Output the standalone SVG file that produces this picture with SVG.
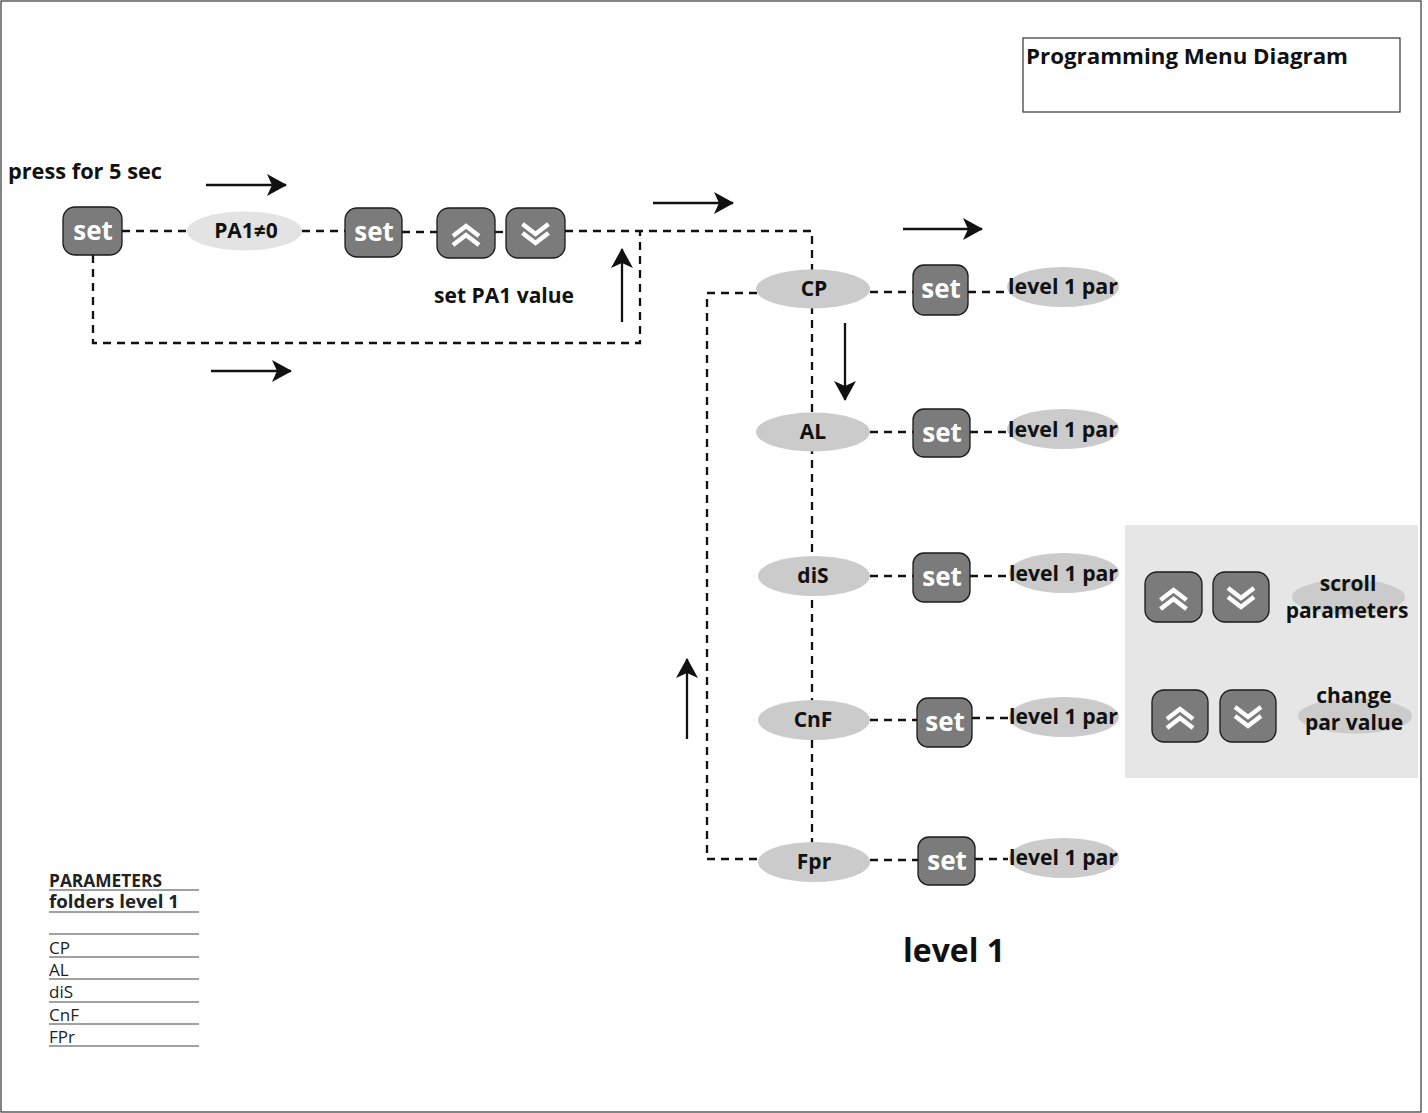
<svg xmlns="http://www.w3.org/2000/svg" width="1428" height="1113" viewBox="0 0 1428 1113">
<defs>
<style>
.btn{fill:#7b7b7b;stroke:#1a1a1a;stroke-width:1.3}
.bt{font-family:"Open Sans","Liberation Sans",sans-serif;font-weight:bold;font-size:26px;fill:#fff;text-anchor:middle}
.el{fill:#cbcbcb}
.lb{font-family:"Open Sans","Liberation Sans",sans-serif;font-weight:bold;font-size:21px;fill:#111;text-anchor:middle}
.tx{font-family:"Open Sans","Liberation Sans",sans-serif;font-weight:bold;font-size:21px;fill:#111}
.dash{fill:none;stroke:#111;stroke-width:2.3;stroke-dasharray:8 6}
.arr{fill:none;stroke:#111;stroke-width:2.3}
.chev{fill:none;stroke:#fff;stroke-width:4.5;stroke-linejoin:miter}
.tb{font-family:"Open Sans","Liberation Sans",sans-serif;font-size:17px;fill:#222}
.tl{stroke:#444;stroke-width:1.2}
</style>
<marker id="ah" viewBox="0 0 20 22" refX="19" refY="11" markerWidth="20" markerHeight="22" markerUnits="userSpaceOnUse" orient="auto">
<path d="M0,0 L20,11 L0,22 L5,11 z" fill="#111"/>
</marker>
<g id="upchev"><polyline class="chev" points="-13,3 0,-7 13,3"/><polyline class="chev" points="-13,12 0,2 13,12"/></g>
<g id="dnchev"><polyline class="chev" points="-13,-9 0,1 13,-9"/><polyline class="chev" points="-13,0 0,10 13,0"/></g>
</defs>
<rect x="1" y="1" width="1420" height="1111" fill="#fff" stroke="#333" stroke-width="1.2"/>

<g id="title">
<rect x="1023" y="38" width="377" height="74" fill="#fff" stroke="#333" stroke-width="1.2"/>
<text x="1026" y="64" class="tx" style="font-size:22px" textLength="322" lengthAdjust="spacingAndGlyphs">Programming Menu Diagram</text>
</g>

<g id="connectors">
<path class="dash" d="M122,231 H187"/>
<path class="dash" d="M302,231 H345"/>
<path class="dash" d="M402,232 H437"/>
<path class="dash" d="M495,232 H506"/>
<path class="dash" d="M565,231 H812 V843"/>
<path class="dash" d="M93,255 V343 H640 V231"/>
<path class="dash" d="M757,293 H707 V859 H758"/>
<path class="dash" d="M870,292 H913"/>
<path class="dash" d="M968,292 H1007"/>
<path class="dash" d="M870,432 H913"/>
<path class="dash" d="M970,432 H1007"/>
<path class="dash" d="M870,576 H913"/>
<path class="dash" d="M970,576 H1010"/>
<path class="dash" d="M870,720 H917"/>
<path class="dash" d="M972,718 H1008"/>
<path class="dash" d="M870,860 H918"/>
<path class="dash" d="M975,859 H1008"/>
<line class="arr" x1="206" y1="185" x2="286" y2="185" marker-end="url(#ah)"/>
<line class="arr" x1="211" y1="371" x2="291" y2="371" marker-end="url(#ah)"/>
<line class="arr" x1="653" y1="203" x2="733" y2="203" marker-end="url(#ah)"/>
<line class="arr" x1="903" y1="229" x2="982" y2="229" marker-end="url(#ah)"/>
<line class="arr" x1="622" y1="322" x2="622" y2="249" marker-end="url(#ah)"/>
<line class="arr" x1="845" y1="323" x2="845" y2="400" marker-end="url(#ah)"/>
<line class="arr" x1="687" y1="739" x2="687" y2="659" marker-end="url(#ah)"/>
</g>

<g id="press-label"><text x="8" y="179" class="tx" textLength="154" lengthAdjust="spacingAndGlyphs">press for 5 sec</text></g>
<g id="set1"><rect class="btn" x="63" y="207" width="59" height="48" rx="12"/><text x="93" y="240" class="bt">set</text></g>
<g id="pa1"><ellipse cx="244.5" cy="231" rx="57.5" ry="19.5" fill="#e3e3e3"/><text x="246" y="238" class="lb">PA1≠0</text></g>
<g id="set2"><rect class="btn" x="345" y="208" width="57" height="49" rx="12"/><text x="374" y="241" class="bt">set</text></g>
<g id="up1"><rect class="btn" x="437" y="208" width="58" height="50" rx="12"/><use href="#upchev" x="466" y="233"/></g>
<g id="down1"><rect class="btn" x="506" y="208" width="59" height="50" rx="12"/><use href="#dnchev" x="535.5" y="233"/></g>
<g id="pa1-label"><text x="434" y="303" class="tx" textLength="140" lengthAdjust="spacingAndGlyphs">set PA1 value</text></g>

<g id="cp"><ellipse class="el" cx="813" cy="289" rx="57" ry="19.5"/><text x="814" y="296" class="lb">CP</text></g>
<g id="cp-set"><rect class="btn" x="913" y="265" width="55" height="50" rx="11"/><text x="941" y="298" class="bt">set</text></g>
<g id="cp-par"><ellipse class="el" cx="1063" cy="287" rx="56" ry="20"/><text x="1008" y="294" class="tx" textLength="110" lengthAdjust="spacingAndGlyphs">level 1 par</text></g>

<g id="al"><ellipse class="el" cx="813" cy="432" rx="57" ry="19.5"/><text x="813" y="439" class="lb">AL</text></g>
<g id="al-set"><rect class="btn" x="913" y="409" width="57" height="48" rx="11"/><text x="942" y="442" class="bt">set</text></g>
<g id="al-par"><ellipse class="el" cx="1063" cy="429" rx="56" ry="20"/><text x="1008" y="437" class="tx" textLength="110" lengthAdjust="spacingAndGlyphs">level 1 par</text></g>

<g id="dis"><ellipse class="el" cx="814" cy="576" rx="56" ry="20"/><text x="813" y="583" class="lb">diS</text></g>
<g id="dis-set"><rect class="btn" x="913" y="553" width="57" height="49" rx="11"/><text x="942" y="586" class="bt">set</text></g>
<g id="dis-par"><ellipse class="el" cx="1064" cy="573" rx="55" ry="20"/><text x="1009" y="581" class="tx" textLength="109" lengthAdjust="spacingAndGlyphs">level 1 par</text></g>

<g id="cnf"><ellipse class="el" cx="814" cy="720" rx="56" ry="20"/><text x="813" y="727" class="lb">CnF</text></g>
<g id="cnf-set"><rect class="btn" x="917" y="698" width="55" height="49" rx="11"/><text x="945" y="731" class="bt">set</text></g>
<g id="cnf-par"><ellipse class="el" cx="1064" cy="717" rx="55" ry="20"/><text x="1009" y="724" class="tx" textLength="109" lengthAdjust="spacingAndGlyphs">level 1 par</text></g>

<g id="fpr"><ellipse class="el" cx="814" cy="862" rx="56" ry="20"/><text x="814" y="869" class="lb">Fpr</text></g>
<g id="fpr-set"><rect class="btn" x="918" y="837" width="57" height="48" rx="11"/><text x="947" y="870" class="bt">set</text></g>
<g id="fpr-par"><ellipse class="el" cx="1064" cy="858" rx="55" ry="20"/><text x="1009" y="865" class="tx" textLength="109" lengthAdjust="spacingAndGlyphs">level 1 par</text></g>

<g id="legend-panel">
<rect x="1125" y="525" width="293" height="253" fill="#e6e6e7"/>
<rect class="btn" x="1145" y="572" width="57" height="50" rx="12"/><use href="#upchev" x="1173.5" y="597"/>
<rect class="btn" x="1213" y="572" width="56" height="50" rx="12"/><use href="#dnchev" x="1241" y="597"/>
<ellipse class="el" cx="1348.5" cy="597" rx="56.5" ry="17.5"/>
<text x="1348" y="591" class="lb">scroll</text>
<text x="1347" y="618" class="lb">parameters</text>
<rect class="btn" x="1152" y="690" width="56" height="52" rx="12"/><use href="#upchev" x="1180" y="716"/>
<rect class="btn" x="1220" y="690" width="56" height="52" rx="12"/><use href="#dnchev" x="1248" y="716"/>
<ellipse class="el" cx="1355" cy="716" rx="57" ry="17.5"/>
<text x="1354" y="703" class="lb">change</text>
<text x="1354" y="730" class="lb">par value</text>
</g>

<g id="level1-label"><text x="903" y="962" class="tx" style="font-size:32px" textLength="102" lengthAdjust="spacingAndGlyphs">level 1</text></g>

<g id="param-table">
<text x="49" y="887" class="tb" style="font-weight:bold" textLength="113" lengthAdjust="spacingAndGlyphs">PARAMETERS</text>
<line class="tl" x1="49" y1="890" x2="199" y2="890"/>
<text x="49" y="908" class="tb" style="font-weight:bold" textLength="130" lengthAdjust="spacingAndGlyphs">folders level 1</text>
<line class="tl" x1="49" y1="912" x2="199" y2="912"/>
<line class="tl" x1="49" y1="934" x2="199" y2="934"/>
<text x="49" y="954" class="tb">CP</text>
<line class="tl" x1="49" y1="957" x2="199" y2="957"/>
<text x="49" y="976" class="tb">AL</text>
<line class="tl" x1="49" y1="979" x2="199" y2="979"/>
<text x="49" y="998" class="tb">diS</text>
<line class="tl" x1="49" y1="1002" x2="199" y2="1002"/>
<text x="49" y="1021" class="tb">CnF</text>
<line class="tl" x1="49" y1="1024" x2="199" y2="1024"/>
<text x="49" y="1043" class="tb">FPr</text>
<line class="tl" x1="49" y1="1046" x2="199" y2="1046"/>
</g>
</svg>
